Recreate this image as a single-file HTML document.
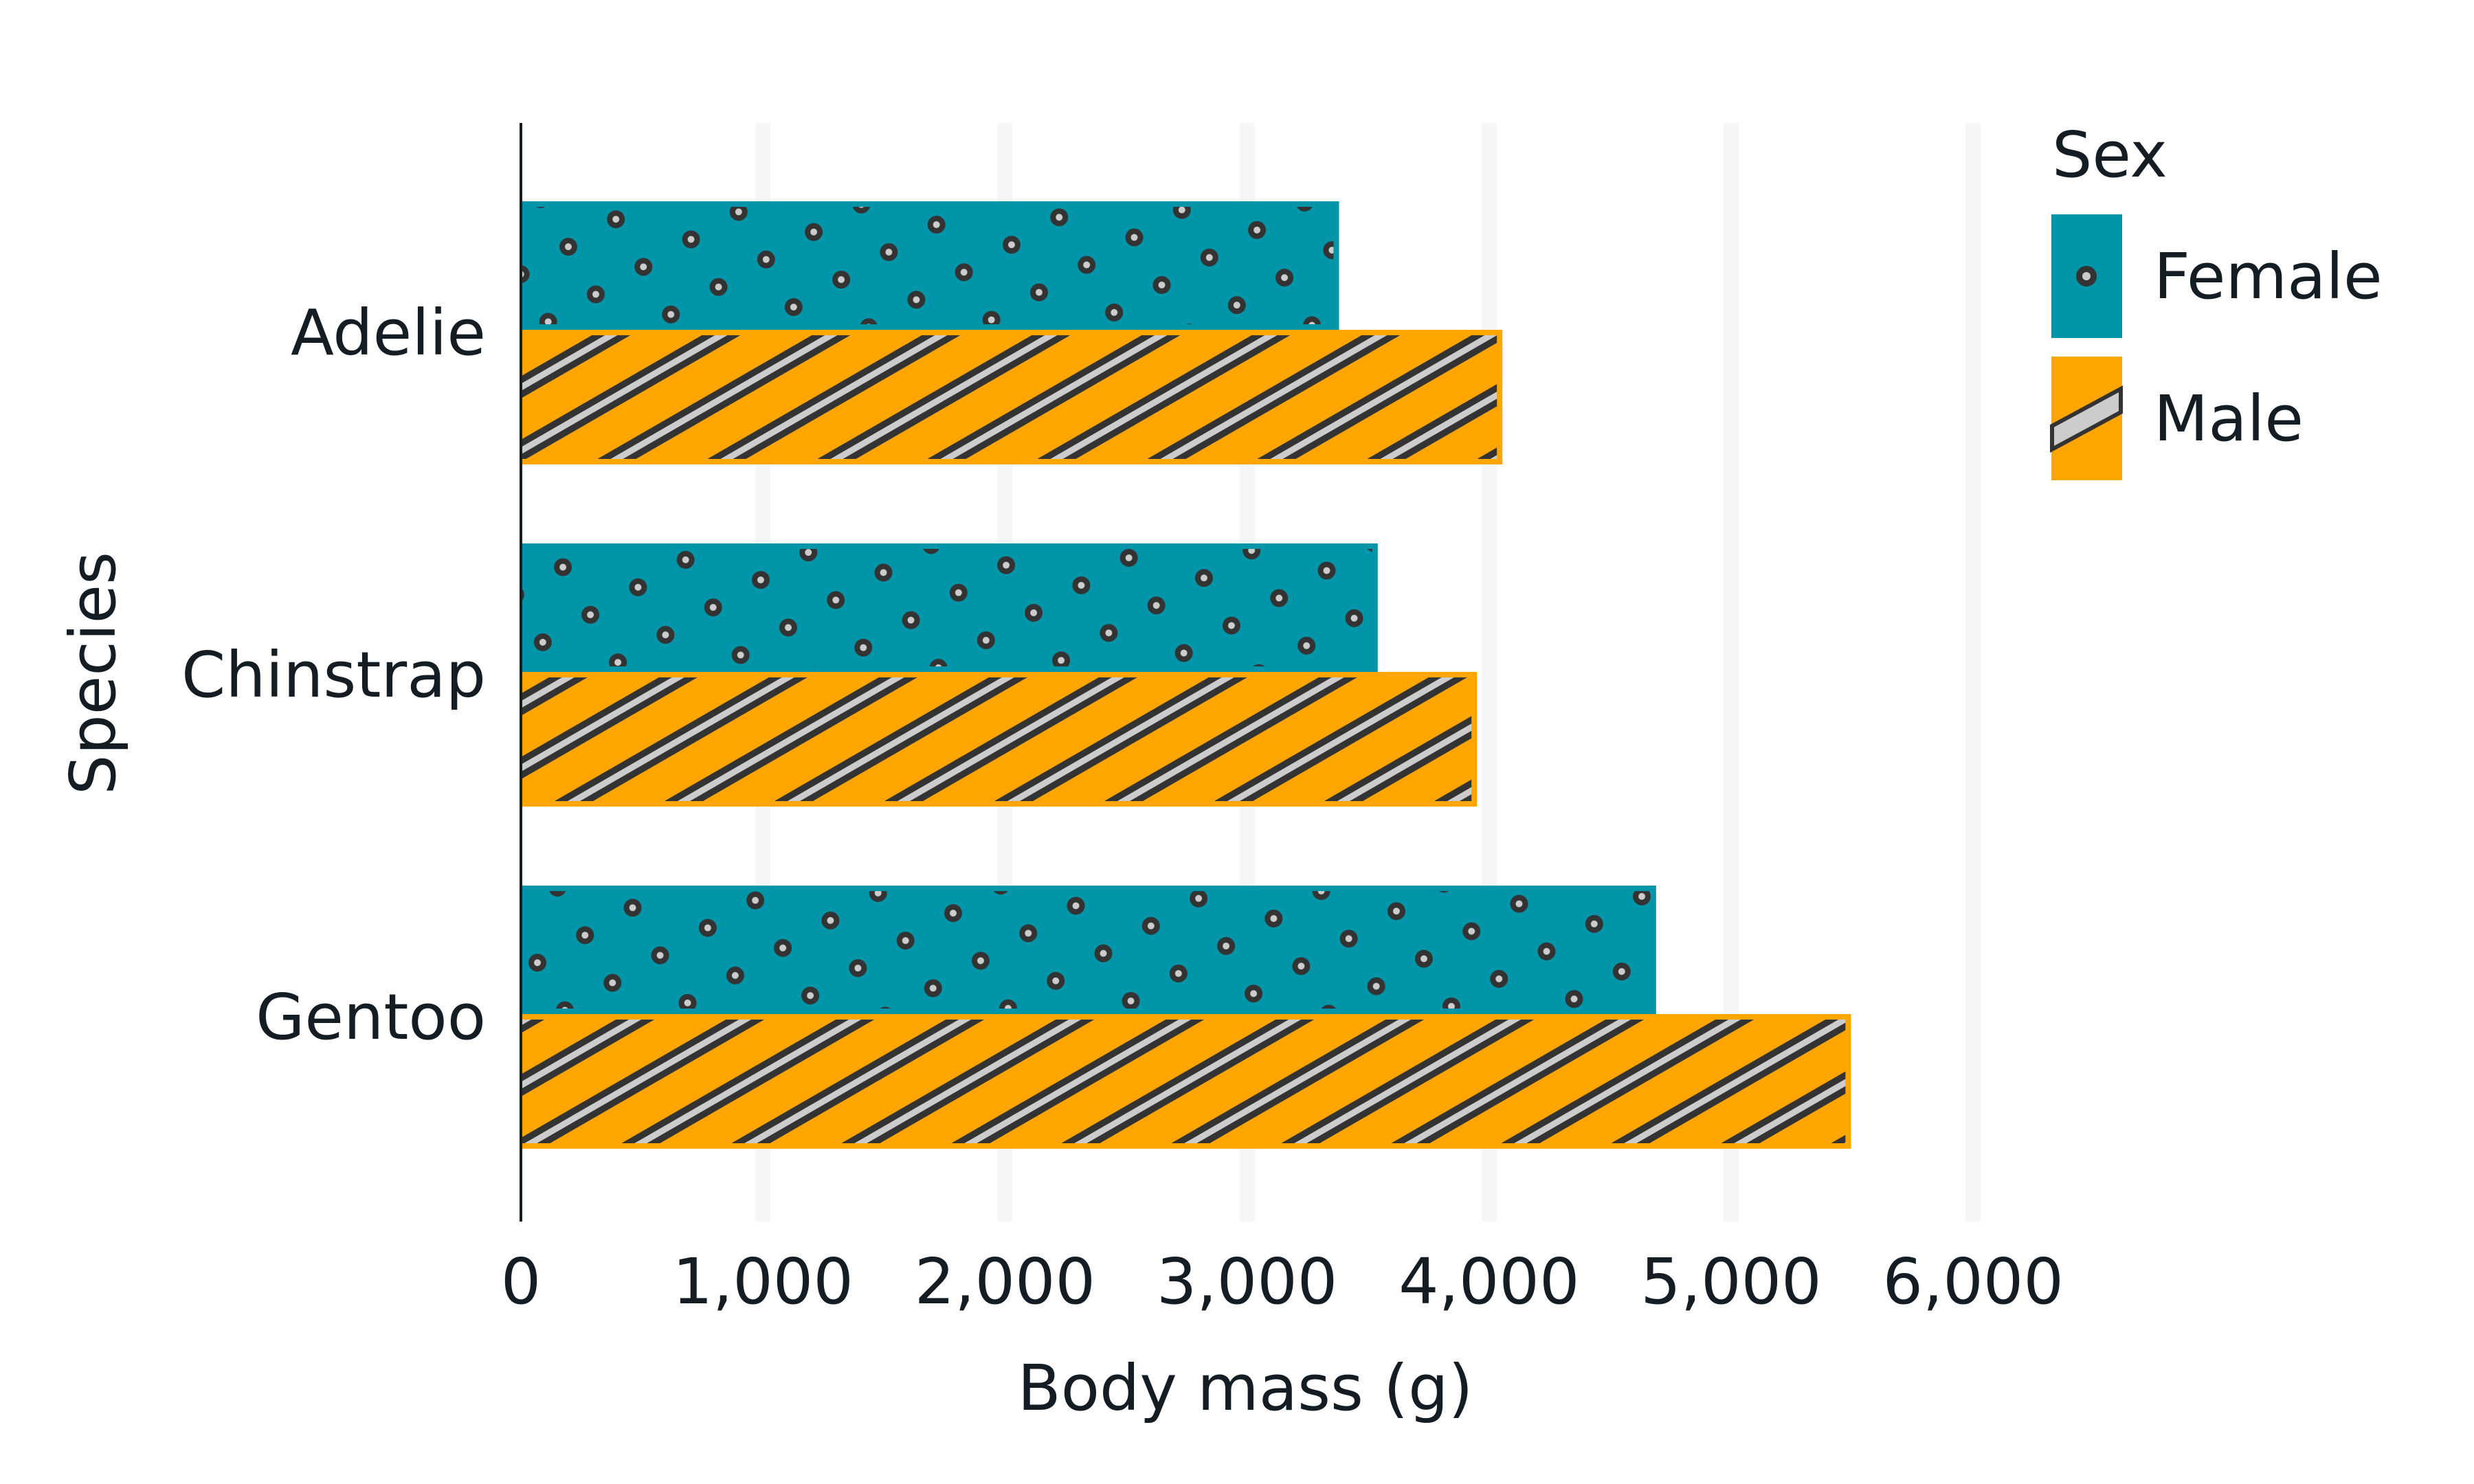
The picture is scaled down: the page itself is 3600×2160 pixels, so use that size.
<!DOCTYPE html>
<html><head><meta charset="utf-8"><style>
html,body{margin:0;padding:0;background:#fff;}
svg{display:block;}
text{font-family:"DejaVu Sans","Liberation Sans",sans-serif;fill:#141c24;}
</style></head><body>
<svg id="chart" width="3600" height="2160" viewBox="0 0 3600 2160" xmlns="http://www.w3.org/2000/svg">
<defs>
<pattern id="dots" width="80" height="80" patternUnits="userSpaceOnUse" patternTransform="translate(182,362) rotate(-30)">
<circle cx="0" cy="0" r="13" fill="#333"/><circle cx="0" cy="0" r="5" fill="#ccc"/>
<circle cx="80" cy="0" r="13" fill="#333"/><circle cx="80" cy="0" r="5" fill="#ccc"/>
<circle cx="0" cy="80" r="13" fill="#333"/><circle cx="0" cy="80" r="5" fill="#ccc"/>
<circle cx="80" cy="80" r="13" fill="#333"/><circle cx="80" cy="80" r="5" fill="#ccc"/>
</pattern>
<pattern id="stripes" width="80" height="80" patternUnits="userSpaceOnUse" patternTransform="translate(758,640) rotate(-30)">
<rect x="0" y="0" width="80" height="28" fill="#333"/>
<rect x="0" y="9.5" width="80" height="9" fill="#ccc"/>
</pattern>
</defs>
<g id="grid"></g>
<g id="bars"></g>
<line x1="758" y1="179" x2="758" y2="1778" stroke="#141c24" stroke-width="4"/>
<g id="xticks"></g>
<g id="ylabels"></g>
<text x="1812" y="2052" font-size="92" text-anchor="middle">Body mass (g)</text>
<text x="0" y="0" font-size="92" text-anchor="middle" transform="translate(167,980) rotate(-90)">Species</text>
<g>
<text x="2986" y="257" font-size="92">Sex</text>
<g>
<rect x="2985" y="312" width="103" height="180" fill="#0095a8"/>
<circle cx="3036" cy="402" r="15" fill="#333"/><circle cx="3036" cy="402" r="6" fill="#ccc"/>
<text x="3134" y="434" font-size="92">Female</text>
</g>
<g>
<rect x="2985" y="519" width="103" height="180" fill="#ffa500"/>
<polygon points="2986,620 3086,566 3086,600 2986,654" fill="#ccc" stroke="#333" stroke-width="6"/>
<text x="3134" y="641" font-size="92">Male</text>
</g>
</g>
</svg>
<script>
const species = ["Adelie", "Chinstrap", "Gentoo"];
const femaleMass = [3380, 3540, 4690];
const maleMass = [4055, 3950, 5495];
const xTicks = [0, 1000, 2000, 3000, 4000, 5000, 6000];
const xTickLabels = ["0", "1,000", "2,000", "3,000", "4,000", "5,000", "6,000"];

const NS = "http://www.w3.org/2000/svg";
const x0 = 758, pxPer = 0.3522;
function xScale(v){ return x0 + v * pxPer; }
const bandStep = 498;
function yCenter(i){ return 480 + i * bandStep; }
const barHF = 187, barHM = 196;

const grid = document.getElementById('grid');
const xt = document.getElementById('xticks');
xTicks.forEach((t, i) => {
  const x = xScale(t);
  if (t > 0) {
    const g = document.createElementNS(NS, 'rect');
    g.setAttribute('x', x - 11); g.setAttribute('y', 179);
    g.setAttribute('width', 22); g.setAttribute('height', 1599);
    g.setAttribute('fill', '#f5f6f8');
    
    
    grid.appendChild(g);
  }
  const tx = document.createElementNS(NS, 'text');
  tx.setAttribute('x', x); tx.setAttribute('y', 1897);
  tx.setAttribute('font-size', '92'); tx.setAttribute('text-anchor', 'middle');
  tx.textContent = xTickLabels[i];
  
  
  xt.appendChild(tx);
});

const bars = document.getElementById('bars');
const yl = document.getElementById('ylabels');
species.forEach((s, i) => {
  const c = yCenter(i);
  [[femaleMass[i], c - barHF, barHF, '#0095a8', 'url(#dots)', 'female'],
   [maleMass[i], c, barHM, '#ffa500', 'url(#stripes)', 'male']].forEach(([v, y, h, col, pat, sex]) => {
    const w = xScale(v) - x0;
    const r = document.createElementNS(NS, 'rect');
    r.setAttribute('x', x0); r.setAttribute('y', y);
    r.setAttribute('width', w); r.setAttribute('height', h);
    r.setAttribute('fill', col);
    
    
    bars.appendChild(r);
    const p = document.createElementNS(NS, 'rect');
    p.setAttribute('x', x0 + 2); p.setAttribute('y', y + 8);
    p.setAttribute('width', Math.max(0, w - 10)); p.setAttribute('height', h - 16);
    p.setAttribute('fill', pat);
    
    
    bars.appendChild(p);
  });
  const t = document.createElementNS(NS, 'text');
  t.setAttribute('x', 707); t.setAttribute('y', c + 36);
  t.setAttribute('font-size', '92'); t.setAttribute('text-anchor', 'end');
  t.textContent = s;
  
  
  yl.appendChild(t);
});
</script>
</body></html>
